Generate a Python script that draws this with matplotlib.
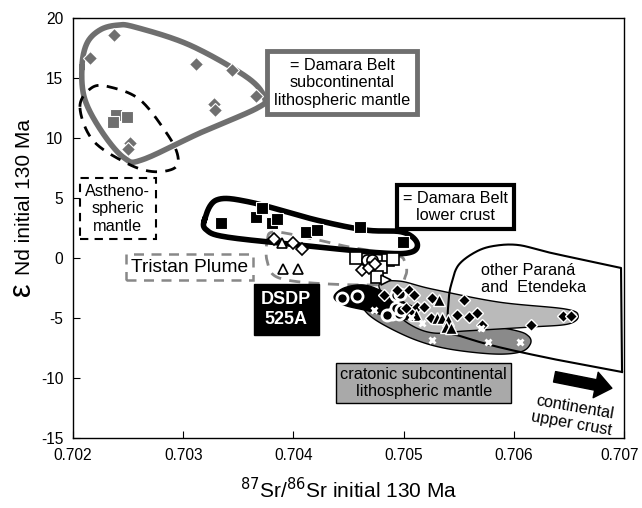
import numpy as np
import matplotlib
matplotlib.use("Agg")
import matplotlib.pyplot as plt
import matplotlib.transforms as mtransforms

plt.rcParams['font.family'] = ['Liberation Sans', 'DejaVu Sans']
plt.rcParams['axes.unicode_minus'] = False

# ---- data (87Sr/86Sr, eNd) ----
# Damara Belt subcontinental lithospheric mantle (gray)
sclm_dia_sr = [0.70237, 0.70215, 0.70312, 0.70344, 0.70366, 0.70328, 0.70329, 0.70252, 0.70250]
sclm_dia_nd = [18.6, 16.7, 16.2, 15.7, 13.5, 12.8, 12.3, 9.6, 9.1]
sclm_sq_sr = [0.70239, 0.70249, 0.70236]
sclm_sq_nd = [11.9, 11.75, 11.3]

# Damara Belt lower crust (black squares)
lc_sr = [0.703347, 0.703664, 0.703718, 0.703808, 0.703854, 0.704116, 0.704215, 0.704604, 0.704993]
lc_nd = [2.9, 3.4, 4.2, 2.9, 3.25, 2.2, 2.3, 2.6, 1.3]

# Tristan plume
tr_dia_sr = [0.703826, 0.703998, 0.704080]
tr_dia_nd = [1.6, 1.25, 0.75]
tr_tri_sr = [0.703899, 0.703908, 0.704043]
tr_tri_nd = [1.25, -0.9, -0.9]

# open symbols near 0.7047
op_sq_sr = [0.704568, 0.704857, 0.704794, 0.704758, 0.704900]
op_sq_nd = [0.0, -0.15, -0.75, -1.6, -0.1]
op_ci_sr = [0.704667, 0.704712]
op_ci_nd = [-0.17, -0.17]
op_di_sr = [0.704622, 0.704685, 0.704740]
op_di_nd = [-1.0, -0.83, -0.5]
op_tr_sr = [0.704839]
op_tr_nd = [-1.83]

# DSDP 525A circles
dsdp_sr = [0.704441, 0.704577, 0.704929, 0.704966, 0.704893, 0.704957, 0.704929, 0.704975, 0.704850]
dsdp_nd = [-3.33, -3.17, -3.08, -3.0, -4.67, -4.67, -4.17, -4.33, -4.75]

# Parana / Etendeka filled symbols
pe_dia_sr = [0.704821, 0.704939, 0.705020, 0.705047, 0.705092, 0.705255, 0.705119, 0.705183, 0.705544,
             0.705246, 0.705481, 0.705590, 0.705662, 0.705707, 0.706159, 0.706448, 0.706521]
pe_dia_nd = [-3.08, -2.67, -4.17, -2.67, -3.08, -3.33, -4.08, -4.08, -3.5,
             -5.0, -4.75, -4.92, -4.58, -5.58, -5.58, -4.83, -4.83]
pe_tri_sr = [0.705318, 0.705110, 0.705300, 0.705345, 0.705400, 0.705382, 0.705427]
pe_tri_nd = [-3.5, -4.75, -5.0, -5.0, -5.17, -5.75, -5.83]
pe_x_sr = [0.704730, 0.705065, 0.705165, 0.705255, 0.705698, 0.705770, 0.706060]
pe_x_nd = [-4.33, -4.92, -5.42, -6.83, -5.83, -7.0, -7.0]

# field outlines
sclm_out_sr = [0.702081, 0.702127, 0.702244, 0.702398, 0.702561, 0.703058, 0.703573, 0.703736,
               0.703673, 0.703148, 0.702633, 0.702470, 0.702271, 0.702108]
sclm_out_nd = [15.9, 17.9, 19.0, 19.4, 19.25, 17.75, 15.1, 13.4, 12.5, 10.4, 8.2, 8.3, 10.4, 13.2]

asth_out_sr = [0.702063, 0.702172, 0.702335, 0.702606, 0.702850, 0.702949, 0.702922, 0.702723, 0.702488, 0.702181]
asth_out_nd = [12.6, 14.2, 14.25, 13.2, 10.4, 8.6, 7.5, 7.2, 7.9, 9.8]

lc_out_sr = [0.703193, 0.703302, 0.703600, 0.704206, 0.704658, 0.704984, 0.705119, 0.705074,
             0.704803, 0.704052, 0.703392, 0.703212]
lc_out_nd = [3.17, 4.83, 4.67, 3.17, 2.33, 2.17, 1.33, 0.5, 0.42, 1.08, 1.75, 2.33]

tr_out_sr = [0.703763, 0.703826, 0.704143, 0.704505, 0.704929, 0.705011, 0.705020, 0.704911,
             0.704324, 0.703872, 0.703763]
tr_out_nd = [1.5, 2.17, 1.67, 0.92, 0.25, -0.33, -1.42, -2.17, -2.17, -1.67, -0.33]

dsdp_out_sr = [0.704369, 0.704459, 0.704640, 0.704821, 0.705002, 0.705119, 0.705074, 0.704911, 0.704685, 0.704459]
dsdp_out_nd = [-3.25, -2.5, -2.25, -2.83, -3.67, -4.33, -5.08, -5.0, -4.42, -3.92]

light_out_sr = [0.704776, 0.704957, 0.705255, 0.705861, 0.706467, 0.706584, 0.706494, 0.706159,
                0.705562, 0.705273, 0.705065, 0.704911]
light_out_nd = [-2.25, -1.92, -2.58, -3.67, -4.25, -4.83, -5.5, -5.75, -6.08, -6.25, -5.58, -4.33]

dark_out_sr = [0.704658, 0.704957, 0.705499, 0.705996, 0.706132, 0.706150, 0.706060, 0.705816,
               0.705409, 0.705110, 0.704821, 0.704667]
dark_out_nd = [-3.92, -3.92, -5.17, -6.0, -6.5, -7.17, -7.83, -8.0, -7.58, -6.83, -5.58, -4.58]

# other Parana and Etendeka: from lower-right corner round to upper-right corner
other_sr = [0.706982, 0.706403, 0.705861, 0.705544, 0.705409, 0.705409, 0.705436, 0.705499,
            0.705653, 0.705816, 0.706042, 0.706340, 0.706973]
other_nd = [-9.5, -8.5, -7.42, -6.58, -6.0, -3.5, -2.08, -0.58, 0.5, 1.0, 1.08, 0.42, -0.83]

x_ticks = [0.702, 0.703, 0.704, 0.705, 0.706, 0.707]
x_tick_labels = ['0.702', '0.703', '0.704', '0.705', '0.706', '0.707']
y_ticks = [20, 15, 10, 5, 0, -5, -10, -15]
y_tick_labels = ['20', '15', '10', '5', '0', '-5', '-10', '-15']


def smooth_closed(xs, ys, n=30):
    # uniform Catmull-Rom through the outline points
    P = np.column_stack([xs, ys])
    m = len(P)
    t = np.linspace(0, 1, n, endpoint=False)[:, None]
    segs = []
    for i in range(m):
        p0, p1, p2, p3 = P[i - 1], P[i], P[(i + 1) % m], P[(i + 2) % m]
        segs.append(0.5 * (2 * p1 + (-p0 + p2) * t + (2 * p0 - 5 * p1 + 4 * p2 - p3) * t ** 2
                           + (-p0 + 3 * p1 - 3 * p2 + p3) * t ** 3))
    out = np.vstack(segs)
    out = np.vstack([out, out[:1]])
    return out[:, 0], out[:, 1]


def smooth_open(xs, ys, n=30):
    P = np.column_stack([xs, ys])
    P = np.vstack([P[:1], P, P[-1:]])
    t = np.linspace(0, 1, n)[:, None]
    segs = []
    for i in range(1, len(P) - 2):
        p0, p1, p2, p3 = P[i - 1], P[i], P[i + 1], P[i + 2]
        segs.append(0.5 * (2 * p1 + (-p0 + p2) * t + (2 * p0 - 5 * p1 + 4 * p2 - p3) * t ** 2
                           + (-p0 + 3 * p1 - 3 * p2 + p3) * t ** 3))
    out = np.vstack(segs)
    return out[:, 0], out[:, 1]


fig = plt.figure(figsize=(6.42, 5.08), dpi=100)
ax = fig.add_axes([73 / 642, 70 / 508, 551 / 642, 420 / 508])

gray = '#6f6f6f'
fs = 11.7

# fields
x, y = smooth_closed(dark_out_sr, dark_out_nd)
ax.fill(x, y, facecolor='#8a8a8a', edgecolor='black', lw=1, zorder=2)
x, y = smooth_closed(light_out_sr, light_out_nd)
ax.fill(x, y, facecolor='#bababa', edgecolor='black', lw=1, zorder=2.5)
x, y = smooth_closed(dsdp_out_sr, dsdp_out_nd)
ax.fill(x, y, facecolor='black', edgecolor='black', lw=1, zorder=3)

x, y = smooth_closed(tr_out_sr, tr_out_nd)
ax.plot(x, y, color='#888888', lw=2, dashes=(4, 3), zorder=1.5)

x, y = smooth_open(other_sr, other_nd)
ax.plot(np.append(x, x[0]), np.append(y, y[0]), color='black', lw=1.5, zorder=3.5)

x, y = smooth_closed(sclm_out_sr, sclm_out_nd)
ax.plot(x, y, color=gray, lw=4, zorder=3)
x, y = smooth_closed(asth_out_sr, asth_out_nd)
ax.plot(x, y, color='black', lw=2, dashes=(4, 3), zorder=3)
x, y = smooth_closed(lc_out_sr, lc_out_nd)
ax.plot(x, y, color='black', lw=4, zorder=3)

# points
ax.plot(sclm_dia_sr, sclm_dia_nd, 'D', color=gray, mec='white', mew=0.8, ms=7.5, zorder=5)
ax.plot(sclm_sq_sr, sclm_sq_nd, 's', color=gray, mec='white', mew=0.8, ms=8, zorder=5)
ax.plot(lc_sr, lc_nd, 's', color='black', mec='white', mew=0.8, ms=8, zorder=5)
ax.plot(tr_dia_sr, tr_dia_nd, 'D', mfc='white', mec='black', mew=1.2, ms=6, zorder=5)
ax.plot(tr_tri_sr, tr_tri_nd, '^', mfc='white', mec='black', mew=1.2, ms=7, zorder=5)
ax.plot(op_sq_sr, op_sq_nd, 's', mfc='white', mec='black', mew=1.2, ms=8, zorder=5)
ax.plot(op_ci_sr, op_ci_nd, 'o', mfc='white', mec='black', mew=1.2, ms=8, zorder=5)
ax.plot(op_di_sr, op_di_nd, 'D', mfc='white', mec='black', mew=1.2, ms=6, zorder=5)
ax.plot(op_tr_sr, op_tr_nd, '>', mfc='white', mec='black', mew=1.2, ms=7, zorder=5)
ax.plot(dsdp_sr, dsdp_nd, 'o', mfc='black', mec='white', mew=2, ms=8, zorder=5)
ax.plot(pe_dia_sr, pe_dia_nd, 'D', mfc='black', mec='white', mew=1, ms=6.5, zorder=5)
ax.plot(pe_tri_sr, pe_tri_nd, '^', mfc='black', mec='white', mew=1, ms=8, zorder=5)
ax.plot(pe_x_sr, pe_x_nd, 'x', color='white', mew=2, ms=5, zorder=5)

# labels
ax.text(0.704441, 14.6, '= Damara Belt\nsubcontinental\nlithospheric mantle', fontsize=fs,
        ha='center', va='center', linespacing=1.2, zorder=6,
        bbox=dict(boxstyle='square,pad=0.4', fc='white', ec=gray, lw=3.5))
ax.text(0.702407, 4.1, 'Astheno-\nspheric\nmantle', fontsize=fs, ha='center', va='center',
        linespacing=1.2, zorder=6,
        bbox=dict(boxstyle='square,pad=0.35', fc='white', ec='black', lw=1.5, ls=(0, (4, 3))))
ax.text(0.705472, 4.25, '= Damara Belt\nlower crust', fontsize=fs, ha='center', va='center',
        linespacing=1.2, zorder=6,
        bbox=dict(boxstyle='square,pad=0.35', fc='white', ec='black', lw=3))
ax.text(0.703058, -0.75, 'Tristan Plume', fontsize=13.8, ha='center', va='center', zorder=6,
        bbox=dict(boxstyle='square,pad=0.25', fc='white', ec='#888888', lw=1.8, ls=(0, (4, 3))))
ax.text(0.703935, -4.3, 'DSDP\n525A', fontsize=13, fontweight='bold', color='white',
        ha='center', va='center', linespacing=1.25, zorder=6,
        bbox=dict(boxstyle='square,pad=0.4', fc='black', ec='black'))
ax.text(0.705698, -1.75, 'other Paraná\nand  Etendeka', fontsize=fs, ha='left', va='center',
        linespacing=1.2, zorder=6)
ax.text(0.705183, -10.4, 'cratonic subcontinental\nlithospheric mantle', fontsize=fs,
        ha='center', va='center', linespacing=1.15, zorder=6,
        bbox=dict(boxstyle='square,pad=0.25', fc='#a9a9a9', ec='black', lw=1))
ax.annotate('', xy=(0.706890, -10.85), xytext=(0.706370, -9.9),
            arrowprops=dict(arrowstyle='simple,head_length=0.7,head_width=1.1,tail_width=0.45',
                            color='black', mutation_scale=17, shrinkA=0, shrinkB=0), zorder=6)
ax.text(0.706540, -13.1, 'continental\nupper crust', fontsize=fs, ha='center', va='center',
        rotation=-10, linespacing=1.15, zorder=6)

ax.set_xlim(0.702, 0.707)
ax.set_ylim(-15, 20)
ax.set_xticks(x_ticks)
ax.set_xticklabels(x_tick_labels)
ax.set_yticks(y_ticks)
ax.set_yticklabels(y_tick_labels)
ax.tick_params(direction='in', length=5, labelsize=11.2, pad=7)
for s in ax.spines.values():
    s.set_linewidth(1)

# nudge the last x tick label so it stays inside the figure
last = ax.get_xticklabels()[-1]
last.set_transform(last.get_transform() + mtransforms.ScaledTranslation(-4 / 100, 0, fig.dpi_scale_trans))

ax.set_xlabel(r'$^{87}$Sr/$^{86}$Sr initial 130 Ma', fontsize=15, labelpad=10)
fig.text(22 / 642, 1 - 289 / 508, 'ε', fontsize=22, rotation=90, ha='center', va='center')
fig.text(25 / 642, 1 - 197 / 508, 'Nd initial 130 Ma', fontsize=15, rotation=90,
         ha='center', va='center')

fig.savefig('out.png', dpi=100)
